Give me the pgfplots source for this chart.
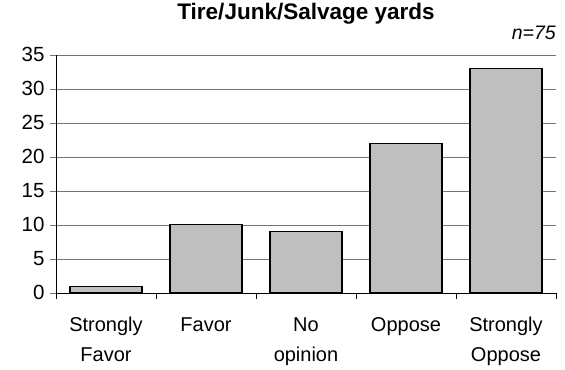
\documentclass[border=0pt]{standalone}
\usepackage{fontspec}
\setmainfont{Liberation Sans}
\usepackage{pgfplots}
\pgfplotsset{compat=1.18}
\begin{document}
\begin{tikzpicture}
\begin{axis}[
    name=ax,
    scale only axis,
    width=500pt, height=238pt,
    ybar, bar width=0.72,
    xmin=-0.5, xmax=4.5,
    ymin=0, ymax=35,
    ytick={0,5,...,35},
    xtick={0,1,2,3,4},
    xticklabels={Strongly\\Favor, Favor, No\\opinion, Oppose, Strongly\\Oppose},
    minor xtick={-0.5,0.5,...,4.5},
    axis x line*=bottom, axis y line*=left,
    axis line style={black, line width=0.8pt, -},
    xtick align=outside, ytick align=outside,
    major x tick style={draw=none},
    minor x tick style={draw=black, line width=0.8pt},
    major y tick style={draw=black!55, line width=0.8pt},
    major tick length=6pt, minor tick length=6pt,
    ymajorgrids, grid style={black!55, line width=0.8pt},
    /pgf/number format/assume math mode=true,
    yticklabel style={font=\fontsize{20.5}{24}\selectfont, xshift=-2pt},
    xticklabel style={font=\fontsize{20}{30}\selectfont, align=center, yshift=-15pt},
    title={\textbf{Tire/Junk/Salvage yards}},
    title style={font=\fontsize{22.5}{26}\selectfont, yshift=21pt},
    clip=false,
]
\addplot[fill=black!25, draw=black, line width=1.1pt] coordinates {(0,1) (1,10) (2,9) (3,22) (4,33)};
\end{axis}
\node[anchor=south east, font=\fontsize{19.5}{22}\selectfont\itshape, inner sep=0pt] at ([yshift=15pt]ax.north east) {n=75};
\path ([xshift=-56pt]ax.south west) -- ([xshift=9pt]ax.north east);
\end{tikzpicture}
\end{document}
